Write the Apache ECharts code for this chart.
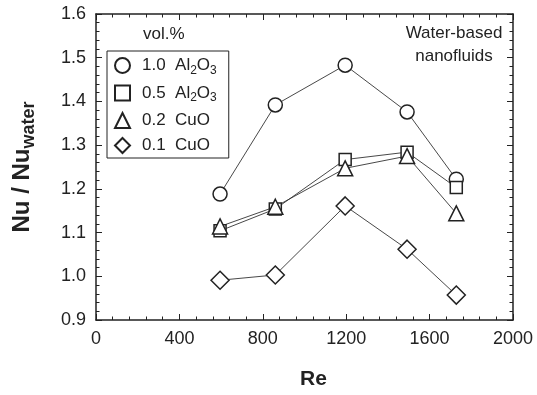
<!DOCTYPE html>
<html>
<head>
<meta charset="utf-8">
<script src="https://cdn.jsdelivr.net/npm/echarts@6/dist/echarts.min.js"></script>
<style>
  html, body { margin: 0; padding: 0; background: #fff; }
  #main { width: 537px; height: 395px; }
</style>
</head>
<body>
<div id="main"></div>
<script>
// Reynolds numbers and Nu/Nu_water ratios
var reValues = [595, 860, 1195, 1492, 1728];
var al2o3_10 = [1.188, 1.392, 1.483, 1.376, 1.222];
var al2o3_05 = [1.104, 1.154, 1.267, 1.284, 1.203];
var cuo_02 = [1.114, 1.159, 1.247, 1.275, 1.144];
var cuo_01 = [0.991, 1.003, 1.161, 1.062, 0.957];
var seriesNames = ['1.0 Al2O3', '0.5 Al2O3', '0.2 CuO', '0.1 CuO'];
var xTicks = [0, 400, 800, 1200, 1600, 2000];
var yTicks = [0.9, 1.0, 1.1, 1.2, 1.3, 1.4, 1.5, 1.6];

var FONT = 'Liberation Sans';
var INK = '#222';
var xMin = xTicks[0], xMax = xTicks[xTicks.length - 1], xStep = xTicks[1] - xTicks[0];
var yMin = yTicks[0], yMax = yTicks[yTicks.length - 1], yStep = 0.1;

function pairs(vals) {
    var out = [];
    for (var i = 0; i < reValues.length; i++) {
        out.push([reValues[i], vals[i]]);
    }
    return out;
}

function makeSeries(name, vals, symbol, size) {
    return {
        name: name,
        type: 'line',
        data: pairs(vals),
        symbol: symbol,
        symbolSize: size,
        showAllSymbol: true,
        lineStyle: { color: '#333', width: 0.9 },
        itemStyle: { color: '#fff', borderColor: INK, borderWidth: 1.5 },
        emphasis: { disabled: true },
        z: 3
    };
}

function legendText(name) {
    var parts = name.split(' ');
    var s = '{n|' + parts[0] + '  }';
    // split formula into letters and subscript digits
    var re = /([A-Za-z]+)(\d*)/g, m;
    while ((m = re.exec(parts[1])) !== null) {
        if (!m[0]) break;
        s += '{n|' + m[1] + '}';
        if (m[2]) s += '{s|' + m[2] + '}';
    }
    return s;
}

// one tick axis: major (long) or minor (short) ticks drawn inside the frame
function tickAxis(pos, min, max, step, len, showLine) {
    return {
        type: 'value',
        position: pos,
        min: min,
        max: max,
        interval: step,
        axisLine: { show: showLine, onZero: false, lineStyle: { color: INK, width: 1.5 } },
        axisTick: { show: true, inside: true, length: len, lineStyle: { color: INK, width: 1 } },
        axisLabel: { show: false },
        splitLine: { show: false }
    };
}

var xAxes = [
    Object.assign(tickAxis('bottom', xMin, xMax, xStep, 6, true), {
        name: 'Re',
        nameLocation: 'middle',
        nameGap: 49,
        nameTextStyle: {
            fontFamily: FONT, fontSize: 21, fontWeight: 'bold', color: INK,
            padding: [0, 0, 0, 18]
        },
        axisLabel: {
            show: true, fontFamily: FONT, fontSize: 18, color: INK, margin: 10,
            formatter: function (v) { return String(v); }
        }
    }),
    tickAxis('top', xMin, xMax, xStep, 6, true),
    tickAxis('bottom', xMin, xMax, xStep / 5, 3.5, false),
    tickAxis('top', xMin, xMax, xStep / 5, 3.5, false)
];

var yAxes = [
    Object.assign(tickAxis('left', yMin, yMax, yStep, 6, true), {
        name: '{b|Nu / Nu}{s|water}',
        nameLocation: 'middle',
        nameRotate: 90,
        nameGap: 58,
        nameTextStyle: {
            rich: {
                b: { fontFamily: FONT, fontSize: 24, fontWeight: 'bold', color: INK },
                s: { fontFamily: FONT, fontSize: 18, fontWeight: 'bold', color: INK, padding: [13, 0, 0, 0] }
            }
        },
        axisLabel: {
            show: true, fontFamily: FONT, fontSize: 18, color: INK, margin: 10,
            formatter: function (v) { return v.toFixed(1); }
        }
    }),
    tickAxis('right', yMin, yMax, yStep, 6, true),
    tickAxis('left', yMin, yMax, yStep / 5, 3.5, false),
    tickAxis('right', yMin, yMax, yStep / 5, 3.5, false)
];

var chart = echarts.init(document.getElementById('main'));
var option = {
    backgroundColor: '#fff',
    animation: false,
    textStyle: { fontFamily: FONT },
    grid: { left: 96, right: 24, top: 14, bottom: 75 },
    xAxis: xAxes,
    yAxis: yAxes,
    legend: {
        orient: 'vertical',
        left: 107,
        top: 51,
        width: 123,
        padding: [6, 12, 4, 7],
        borderColor: INK,
        borderWidth: 1,
        backgroundColor: '#fff',
        itemWidth: 15,
        itemHeight: 15,
        itemGap: 8,
        selectedMode: false,
        data: [
            { name: seriesNames[0], icon: 'circle' },
            { name: seriesNames[1], icon: 'rect' },
            { name: seriesNames[2], icon: 'triangle' },
            { name: seriesNames[3], icon: 'diamond' }
        ],
        formatter: legendText,
        textStyle: {
            padding: [0, 0, 0, 7],
            rich: {
                n: { fontFamily: FONT, fontSize: 17, color: INK, lineHeight: 18 },
                s: { fontFamily: FONT, fontSize: 12, color: INK, padding: [10, 0, 0, 0] }
            }
        }
    },
    graphic: [
        {
            type: 'text', left: 143, top: 26,
            style: { text: 'vol.%', fontFamily: FONT, fontSize: 17, fill: INK }
        },
        {
            type: 'text', x: 454, y: 22,
            style: {
                text: 'Water-based\nnanofluids', fontFamily: FONT, fontSize: 17, fill: INK,
                align: 'center', lineHeight: 23
            }
        }
    ],
    series: [
        makeSeries(seriesNames[0], al2o3_10, 'circle', 14),
        makeSeries(seriesNames[1], al2o3_05, 'rect', 12),
        makeSeries(seriesNames[2], cuo_02, 'triangle', 15),
        makeSeries(seriesNames[3], cuo_01, 'diamond', 18)
    ]
};
chart.setOption(option);
</script>
</body>
</html>
